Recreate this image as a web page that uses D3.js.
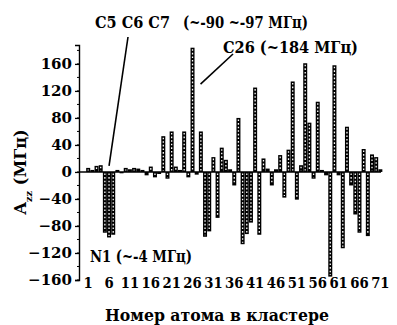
<!DOCTYPE html>
<html>
<head>
<meta charset="utf-8">
<script src="https://cdn.jsdelivr.net/npm/d3@7"></script>
<style>
  body { margin: 0; background: #fff; }
  svg text { font-family: "DejaVu Serif", "Liberation Serif", serif; font-weight: bold; fill: #000; }
</style>
</head>
<body>
<div id="chart"></div>
<script>
// atom numbers and A_zz values (MHz)
const atoms = d3.range(1, 72);
const azz = [6, 3, 9, 10, -90, -97, -93, 3, -2, 6,
  4, 6, 5, 3, -5, 8, -8, -3, 53, -10,
  60, 8, 3, 60, -8, 184, -4, 60, -96, -88,
  22, -68, 36, 18, 4, -20, 80, -107, -92, -75,
  125, -93, 20, 5, -20, 4, 25, -38, 33, 134,
  -41, 10, 161, 73, -10, 104, 3, -5, -155, 158,
  -5, -113, 67, -20, -63, -90, 34, -95, 26, 22, 4];
const xTicks = [1, 6, 11, 16, 21, 26, 31, 36, 41, 46, 51, 56, 61, 66, 71];
const yTicks = [-160, -120, -80, -40, 0, 40, 80, 120, 160];
const yMinor = d3.range(-160, 181, 20);

const W = 397, H = 325;
const svg = d3.select('#chart').append('svg')
  .attr('width', W).attr('height', H);

const x = d3.scaleLinear().domain([0, 73]).range([84, 388.7]);
const y = d3.scaleLinear().domain([-160, 188]).range([280, 45]);
const axisX = 79;
const bw = 4;

// bars: black with white dotted core, like the scanned hatching
const bars = svg.append('g');
atoms.forEach((a, i) => {
  const v = azz[i];
  const top = Math.min(y(v), y(0)), bot = Math.max(y(v), y(0));
  bars.append('rect')
    .attr('x', x(a) - bw / 2).attr('y', top)
    .attr('width', bw).attr('height', bot - top)
    .attr('fill', '#000');
  if (bot - top > 4) {
    bars.append('line')
      .attr('x1', x(a)).attr('x2', x(a))
      .attr('y1', top + 1.5).attr('y2', bot - 1.5)
      .attr('stroke', '#fff').attr('stroke-width', 1.3)
      .attr('stroke-dasharray', '1.6,2');
  }
});

// zero line
svg.append('line')
  .attr('x1', axisX).attr('x2', 381)
  .attr('y1', y(0)).attr('y2', y(0))
  .attr('stroke', '#000').attr('stroke-width', 1.5);

// y axis
const yAxis = d3.axisLeft(y).tickValues(yTicks).tickSize(4).tickPadding(3);
const gy = svg.append('g').attr('transform', `translate(${axisX},0)`).call(yAxis);
gy.select('.domain').attr('stroke-width', 1.4);
gy.selectAll('.tick line').attr('stroke-width', 1.3);
gy.selectAll('.tick text').style('font-size', '15px').style('font-family', '"DejaVu Serif", serif').style('font-weight', 'bold');
svg.append('g').selectAll('line').data(yMinor).join('line')
  .attr('x1', axisX - 2).attr('x2', axisX)
  .attr('y1', d => y(d)).attr('y2', d => y(d))
  .attr('stroke', '#000').attr('stroke-width', 1);

// x tick labels (squeezed a bit so they don't run together)
svg.append('g').selectAll('text').data(xTicks).join('text')
  .attr('x', d => x(d)).attr('y', 288)
  .attr('text-anchor', 'middle')
  .attr('textLength', d => String(d).length * 9.2)
  .attr('lengthAdjust', 'spacingAndGlyphs')
  .style('font-size', '15px')
  .text(d => d);

// axis titles
svg.append('text')
  .attr('x', 217).attr('y', 321)
  .attr('text-anchor', 'middle')
  .attr('textLength', 224).attr('lengthAdjust', 'spacingAndGlyphs')
  .style('font-size', '16px')
  .text('Номер атома в кластере');

const yt = svg.append('text')
  .attr('transform', `translate(26,${y(0)}) rotate(-90)`)
  .attr('text-anchor', 'middle')
  .style('font-size', '16px');
yt.append('tspan').text('A');
yt.append('tspan').attr('baseline-shift', 'sub').style('font-size', '10px').text('zz');
yt.append('tspan').text(' (МГц)');

// annotations
svg.append('text').attr('x', 95).attr('y', 28)
  .attr('textLength', 75).attr('lengthAdjust', 'spacingAndGlyphs')
  .style('font-size', '16px').text('C5 C6 C7');
svg.append('text').attr('x', 183).attr('y', 28)
  .attr('textLength', 125).attr('lengthAdjust', 'spacingAndGlyphs')
  .style('font-size', '16px').text('(~-90 ~-97 МГц)');
svg.append('text').attr('x', 223).attr('y', 53)
  .attr('textLength', 135).attr('lengthAdjust', 'spacingAndGlyphs')
  .style('font-size', '16px').text('C26  (~184 МГц)');
svg.append('text').attr('x', 90).attr('y', 262)
  .attr('textLength', 102).attr('lengthAdjust', 'spacingAndGlyphs')
  .style('font-size', '16px').text('N1 (~-4 МГц)');

svg.append('line')
  .attr('x1', 128).attr('y1', 37).attr('x2', x(6)).attr('y2', y(0) - 6)
  .attr('stroke', '#000').attr('stroke-width', 1.6);
svg.append('line')
  .attr('x1', 233).attr('y1', 54).attr('x2', x(26) + 8).attr('y2', y(130))
  .attr('stroke', '#000').attr('stroke-width', 1.6);
</script>
</body>
</html>
